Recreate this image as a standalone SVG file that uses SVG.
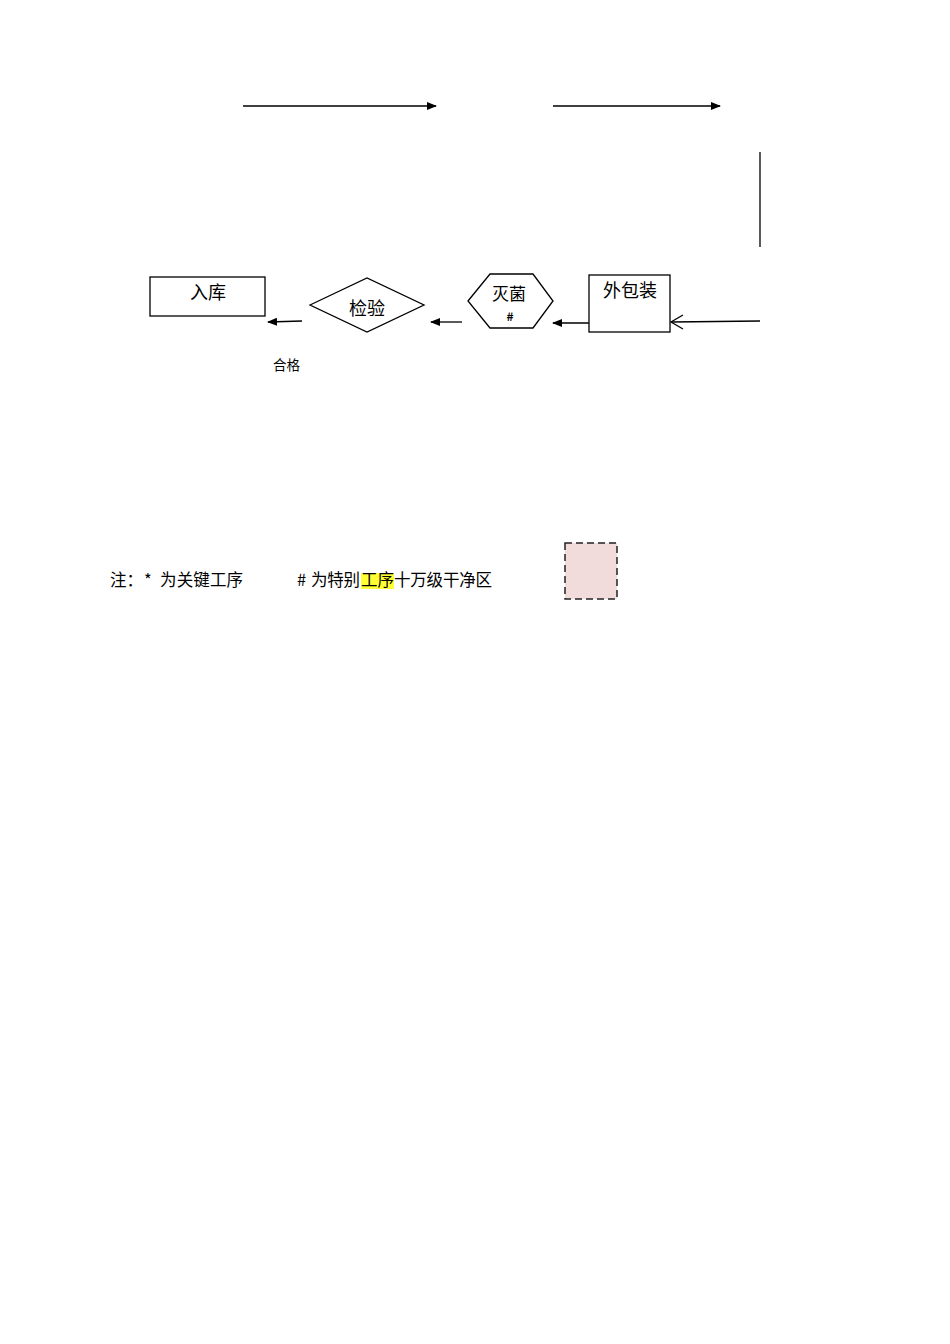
<svg xmlns="http://www.w3.org/2000/svg" width="950" height="1344" viewBox="0 0 950 1344">
<style>
.shape{fill:#fff;stroke:#000;stroke-width:1.3}
.line{fill:none;stroke:#000;stroke-width:1.3}
.t{font-family:"Noto Sans CJK SC","Liberation Sans",sans-serif;fill:#000}
</style>
<defs>
<marker id="ah" markerWidth="10" markerHeight="8" refX="9" refY="4" orient="auto" markerUnits="userSpaceOnUse">
<path d="M0,0 L10,4 L0,8 Z" fill="#000"/>
</marker>
</defs>
<rect width="950" height="1344" fill="#fff"/>
<g id="connectors">
<line class="line" x1="243" y1="106" x2="436" y2="106" marker-end="url(#ah)"/>
<line class="line" x1="553" y1="106" x2="720" y2="106" marker-end="url(#ah)"/>
<line class="line" x1="760" y1="152" x2="760" y2="247"/>
<line class="line" x1="760" y1="321" x2="672" y2="322"/>
<path class="line" d="M683,315 L671,322 L683,329" stroke-width="2"/>
<line class="line" x1="589" y1="323" x2="553" y2="323" marker-end="url(#ah)"/>
<line class="line" x1="462" y1="322" x2="431" y2="322" marker-end="url(#ah)"/>
<line class="line" x1="302" y1="321" x2="268" y2="322" marker-end="url(#ah)"/>
</g>
<g id="node-ruku">
<rect class="shape" x="150" y="277" width="115" height="39"/>
<text class="t" x="208" y="299" font-size="18" text-anchor="middle">入库</text>
</g>
<g id="node-jianyan">
<polygon class="shape" points="310,305 367,278 424,305 367,332"/>
<text class="t" x="367" y="315" font-size="18" text-anchor="middle">检验</text>
</g>
<g id="node-miejun">
<polygon class="shape" points="468,301 490,274 533,274 553,301 533,328 490,328"/>
<text class="t" x="509" y="300" font-size="17" text-anchor="middle">灭菌</text>
<text class="t" x="510" y="321" font-size="12" font-weight="bold" text-anchor="middle">#</text>
</g>
<g id="node-waibaozhuang">
<rect class="shape" x="589" y="275" width="81" height="57"/>
<text class="t" x="630" y="297" font-size="18" text-anchor="middle">外包装</text>
</g>
<g id="label-hege">
<text class="t" x="273" y="370" font-size="13.5">合格</text>
</g>
<g id="legend">
<rect x="361" y="573" width="33" height="16" fill="#ffff33"/>
<text class="t" x="110" y="586" font-size="16.5">注：</text>
<text class="t" x="144" y="586" font-size="16.5">*</text>
<text class="t" x="160" y="586" font-size="16.5" textLength="83" lengthAdjust="spacing">为关键工序</text>
<text class="t" x="297" y="586" font-size="16.5">#</text>
<text class="t" x="311" y="586" font-size="16.5" textLength="49" lengthAdjust="spacing">为特别</text>
<text class="t" x="361" y="586" font-size="16.5" textLength="33" lengthAdjust="spacing">工序</text>
<text class="t" x="394" y="586" font-size="16.5" textLength="98" lengthAdjust="spacing">十万级干净区</text>
<rect x="565" y="543" width="52" height="56" fill="#f2dcdb" stroke="#222" stroke-width="1.5" stroke-dasharray="7,4"/>
</g>
</svg>
